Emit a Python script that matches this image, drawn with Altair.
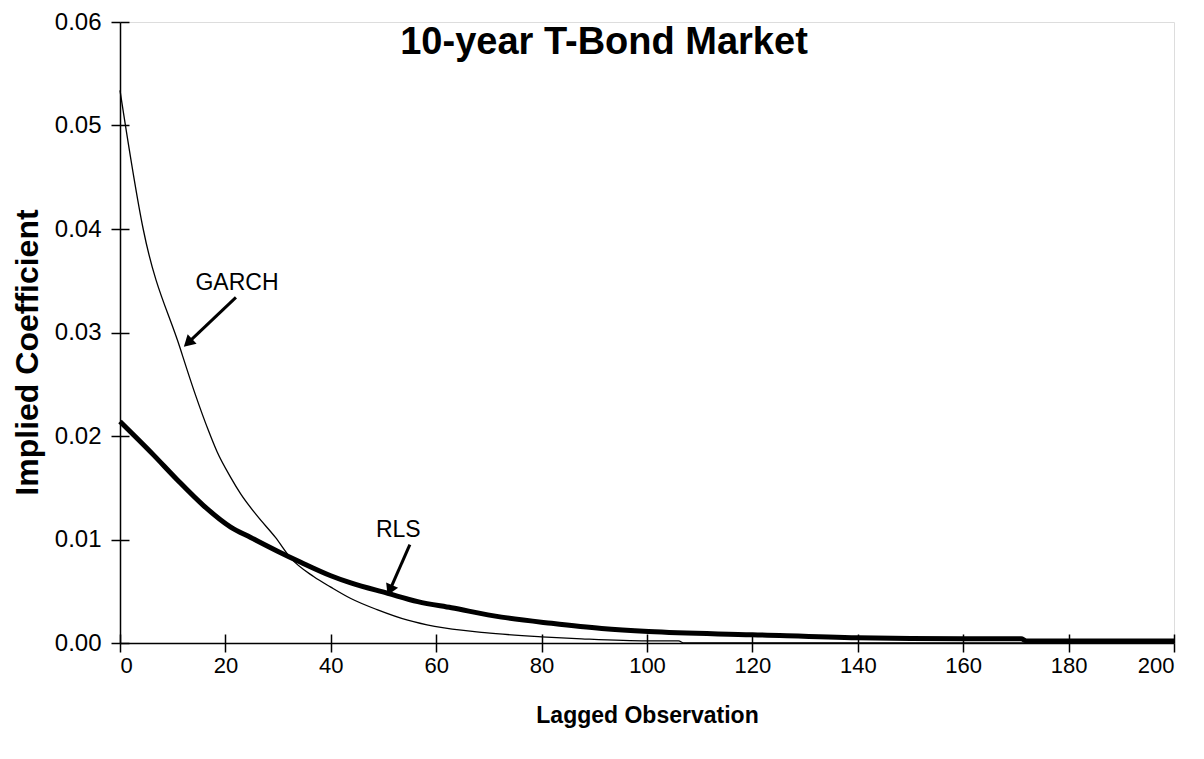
import altair as alt
import pandas as pd

# GARCH implied coefficients
garch_x = [0, 4.4, 11.4, 14.3, 16.8, 18.4, 21, 22.9, 26, 29.5, 32.4, 36.8, 40,
           43.8, 48.9, 54.6, 59.7, 69.2, 80, 87.6, 100, 106, 107, 200]
garch_y = [0.0534, 0.0400, 0.0285, 0.0240, 0.0205, 0.0185, 0.0160, 0.0144,
           0.0123, 0.0102, 0.0082, 0.0064, 0.0054, 0.0043, 0.0032, 0.0022, 0.0016, 0.0010,
           0.0006, 0.0004, 0.0002, 0.0002, 0.0, 0.0]

# RLS implied coefficients
rls_x = [0, 6.3, 10.8, 15.8, 21, 24.8, 29.8, 34.3, 40, 43.8, 50.8, 56.5, 62.9, 72.4,
         81.9, 91.4, 100.3, 120, 140, 160, 171, 172, 200]
rls_y = [0.0214, 0.0182, 0.0158, 0.0133, 0.0112, 0.0102, 0.0089, 0.0078, 0.0065, 0.0058,
         0.0048, 0.0040, 0.0034, 0.0025, 0.0019, 0.0014, 0.0011, 0.0008, 0.0005, 0.0004,
         0.0004, 0.0002, 0.0002]

x_ticks = [0, 20, 40, 60, 80, 100, 120, 140, 160, 180, 200]
y_ticks = [0.00, 0.01, 0.02, 0.03, 0.04, 0.05, 0.06]

# annotations (data coordinates)
label_text = ["GARCH", "RLS"]
label_x = [22.2, 52.8]
label_y = [0.0348, 0.0109]
arrow_x1 = [22.0, 55.0]
arrow_y1 = [0.0334, 0.0095]
arrow_x2 = [12.9, 51.2]
arrow_y2 = [0.0290, 0.0051]
arrow_angle = [227, 204]

FONT = "Liberation Sans"

garch = pd.DataFrame({"lag": garch_x, "coef": garch_y, "series": "GARCH"})
rls = pd.DataFrame({"lag": rls_x, "coef": rls_y, "series": "RLS"})
labels = pd.DataFrame({"text": label_text, "lag": label_x, "coef": label_y})
arrows = pd.DataFrame({"lag": arrow_x1, "coef": arrow_y1, "lag2": arrow_x2,
                       "coef2": arrow_y2, "angle": arrow_angle})

xscale = alt.Scale(domain=[0, 200], nice=False, zero=False)
yscale = alt.Scale(domain=[0, 0.06], nice=False)

xaxis = alt.Axis(values=x_ticks, format="d", title="Lagged Observation", grid=False,
                 domainColor="black", domainWidth=1.5, tickColor="black", tickWidth=1.5,
                 tickSize=9, labelFont=FONT, labelFontSize=22, labelColor="black",
                 labelPadding=3, titleFont=FONT, titleFontSize=23, titleFontWeight="bold",
                 titleColor="black", titlePadding=28)
yaxis = alt.Axis(values=y_ticks, format=".2f", title="Implied Coefficient", grid=False,
                 domainColor="black", domainWidth=1.5, tickColor="black", tickWidth=1.5,
                 tickSize=9, labelFont=FONT, labelFontSize=24, labelColor="black",
                 labelPadding=10, titleFont=FONT, titleFontSize=32, titleY=330,
                 titleFontWeight="bold", titleColor="black", titlePadding=10)
xaxis_in = alt.Axis(values=x_ticks, orient="bottom", offset=-9, tickSize=9, domain=False,
                    labels=False, title=None, grid=False, tickColor="black", tickWidth=1.5)
yaxis_in = alt.Axis(values=y_ticks, orient="left", offset=-9, tickSize=9, domain=False,
                    labels=False, title=None, grid=False, tickColor="black", tickWidth=1.5)

garch_line = alt.Chart(garch).mark_line(color="black", strokeWidth=1.3,
                                        interpolate="monotone").encode(
    x=alt.X("lag:Q", scale=xscale, axis=xaxis),
    y=alt.Y("coef:Q", scale=yscale, axis=yaxis),
)
rls_line = alt.Chart(rls).mark_line(color="black", strokeWidth=5,
                                    interpolate="monotone").encode(
    x=alt.X("lag:Q", scale=xscale),
    y=alt.Y("coef:Q", scale=yscale),
)
inner_ticks = alt.Chart(rls).mark_line(opacity=0).encode(
    x=alt.X("lag:Q", scale=xscale, axis=xaxis_in),
    y=alt.Y("coef:Q", scale=yscale, axis=yaxis_in),
)
text = alt.Chart(labels).mark_text(font=FONT, fontSize=23, color="black").encode(
    x=alt.X("lag:Q", scale=xscale), y=alt.Y("coef:Q", scale=yscale), text="text:N")
shafts = alt.Chart(arrows).mark_rule(color="black", strokeWidth=3).encode(
    x=alt.X("lag:Q", scale=xscale), y=alt.Y("coef:Q", scale=yscale),
    x2="lag2:Q", y2="coef2:Q")
heads = alt.Chart(arrows).mark_point(shape="triangle-up", filled=True, color="black",
                                     opacity=1, size=170).encode(
    x=alt.X("lag2:Q", scale=xscale), y=alt.Y("coef2:Q", scale=yscale),
    angle=alt.Angle("angle:Q", scale=None))

main = alt.layer(garch_line, rls_line, shafts, heads, text)
chart = alt.layer(main, inner_ticks).resolve_axis(x="independent", y="independent").properties(
    width=1054, height=621,
    autosize=alt.AutoSizeParams(type="none"),
    padding={"left": 112, "top": 14, "right": 20, "bottom": 100},
    title=alt.TitleParams("10-year T-Bond Market", anchor="middle", frame="group", dx=-43,
                          dy=82, offset=0, baseline="alphabetic", font=FONT,
                          fontSize=38, fontWeight="bold", color="black"),
).configure_view(stroke=None).configure(background="white")

chart.save("out.html", embed_options={"renderer": "svg", "actions": False})
